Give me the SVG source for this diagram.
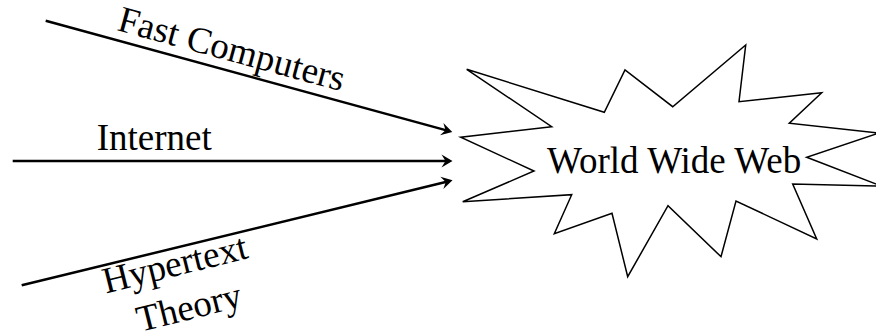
<svg xmlns="http://www.w3.org/2000/svg" width="876" height="335" viewBox="0 0 876 335">
  <style>
    .lbl { font-family: "Liberation Serif", "Times New Roman", serif; font-size: 37px; fill: #000; }
    .conn { stroke: #000; stroke-width: 2.5; fill: none; }
    .star { stroke: #000; stroke-width: 1.5; fill: #fff; stroke-linejoin: miter; }
  </style>
  <defs>
    <marker id="arrow" markerUnits="userSpaceOnUse" viewBox="-12 -7 13 14" refX="-6" refY="0" markerWidth="13" markerHeight="14" orient="auto">
      <path d="M0,0 L-11,-6.4 L-7,0 L-11,6.4 Z" fill="#000"/>
    </marker>
  </defs>
  <rect width="876" height="335" fill="#fff"/>
  <g id="connectors">
    <line class="conn" x1="45.7" y1="20.7" x2="446.5" y2="130.4" marker-end="url(#arrow)"/>
    <line class="conn" x1="12.7" y1="161" x2="446.5" y2="161" marker-end="url(#arrow)"/>
    <line class="conn" x1="21.7" y1="285.3" x2="446.7" y2="181.7" marker-end="url(#arrow)"/>
    <text class="lbl" transform="translate(116,30) rotate(15.25)">Fast Computers</text>
    <text class="lbl" x="96.7" y="150">Internet</text>
    <text class="lbl" transform="translate(106,293.5) rotate(-14)">Hypertext</text>
    <text class="lbl" transform="translate(140,332) rotate(-14)">Theory</text>
  </g>
  <g id="world-wide-web">
    <polygon class="star" points="466.7,69.3 551.7,126.7 460.7,137.3 534,171 462.7,201.7 571.7,194.7 554.3,233.7 612,213.3 627.7,276.7 668,205.7 721,256.7 736,201 816.7,239 792.7,184 881.5,186.1 806.7,157.3 879,133 789.3,123.3 821.7,92.7 739,101.7 745.7,45 672.7,106.7 625,70 604.3,112.3"/>
    <text class="lbl" x="547" y="173">World Wide Web</text>
  </g>
</svg>
